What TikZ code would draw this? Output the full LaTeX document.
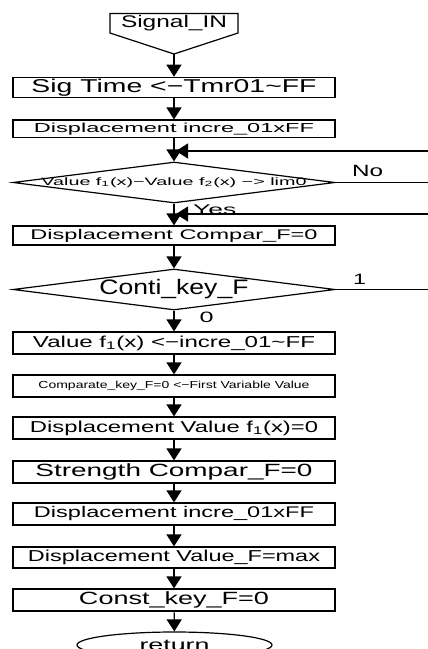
\documentclass[tikz,border=0pt]{standalone}
\usepackage{fontspec}
\setmainfont{Liberation Sans}
\usetikzlibrary{arrows.meta,shapes.geometric}
\newcommand\wt[3]{{\fontsize{#2pt}{#2pt}\selectfont\resizebox{#1pt}{\height}{#3}}}
\begin{document}
\begin{tikzpicture}[x=1pt,y=-1pt,
  lw/.style={line width=1.2pt},
  box/.style={draw, lw, rectangle, minimum width=322pt, inner sep=0pt},
  dia/.style={draw, lw, diamond, minimum width=322pt, minimum height=41pt, inner sep=0pt},
  arr/.style={lw, -{Triangle[width=15pt,length=12pt]}},
  lab/.style={inner sep=0pt}]
\useasboundingbox (0,0) rectangle (428,649);
% start
\node[lab] (sig) at (174,23.5) {\wt{106}{16.8}{Signal\_IN}};
\draw[lw] (110,13.5) -- (238,13.5) -- (238,33) -- (174,54) -- (110,33) -- cycle;
\coordinate (sigtip) at (174,54);
% boxes
\node[box, minimum height=20pt] (b1) at (174,87.3) {\wt{285}{18.6}{Sig Time <−Tmr01\textasciitilde FF}};
\node[box, minimum height=17.3pt] (b2) at (174,128.7) {\wt{280}{13}{Displacement incre\_01xFF}};
\node[dia] (d1) at (174,182.5) {\makebox[0pt]{\wt{265}{10.7}{Value f\textsubscript{1}(x)−Value f\textsubscript{2}(x) −> lim0}}};
\node[box, minimum height=19pt] (b3) at (174,235.5) {\wt{287}{14}{Displacement Compar\_F=0}};
\node[dia] (d2) at (174,289.5) {\makebox[0pt]{\wt{149}{21}{Conti\_key\_F}}};
\node[box, minimum height=22pt] (b4) at (174,343) {\wt{282}{15.8}{Value f\textsubscript{1}(x) <−incre\_01\textasciitilde FF}};
\node[box, minimum height=22pt] (b5) at (174,386) {\wt{271}{10.2}{Comparate\_key\_F=0 <−First Variable Value}};
\node[box, minimum height=22pt] (b6) at (174,428) {\wt{288}{15.8}{Displacement Value f\textsubscript{1}(x)=0}};
\node[box, minimum height=22pt] (b7) at (174,472) {\wt{277}{17.7}{Strength Compar\_F=0}};
\node[box, minimum height=22pt] (b8) at (174,514) {\wt{280}{15.4}{Displacement incre\_01xFF}};
\node[box, minimum height=21pt] (b9) at (174,557.5) {\wt{292}{15.8}{Displacement Value\_F=max}};
\node[box, minimum height=22pt] (b10) at (174,600) {\wt{190}{17.7}{Const\_key\_F=0}};
\node[draw, lw, ellipse, minimum width=195pt, minimum height=26pt, inner sep=0pt] (ret) at (174.5,645) {\wt{70}{16}{return}};
% labels
\node[lab, anchor=base west] (no) at (352,176.7) {\wt{31}{16.3}{No}};
\node[lab, anchor=base west] (yes) at (193,214) {\wt{43}{14}{Yes}};
\node[lab, anchor=base] (one) at (359.5,284.5) {\wt{13}{15}{1}};
\node[lab, anchor=base] (zero) at (206.5,322) {\wt{14}{15}{0}};
% free ends
\coordinate (r1) at (428,151);
\coordinate (r1e) at (176,151);
\coordinate (noend) at (428,182.5);
\coordinate (r2) at (428,214);
\coordinate (r2e) at (176,214);
\coordinate (oneend) at (428,289.5);
% connectors
\draw[arr] (sigtip) -- (b1);
\draw[arr] (b1) -- (b2);
\draw[arr] (b2) -- (d1);
\draw[arr] (d1) -- (b3);
\draw[arr] (b3) -- (d2);
\draw[arr] (d2) -- (b4);
\draw[arr] (b4) -- (b5);
\draw[arr] (b5) -- (b6);
\draw[arr] (b6) -- (b7);
\draw[arr] (b7) -- (b8);
\draw[arr] (b8) -- (b9);
\draw[arr] (b9) -- (b10);
\draw[arr] (b10) -- (ret);
\draw[arr] (r1) -- (r1e);
\draw[arr] (r2) -- (r2e);
\draw[lw] (d1.east) -- (noend);
\draw[lw] (d2.east) -- (oneend);
\end{tikzpicture}
\end{document}
